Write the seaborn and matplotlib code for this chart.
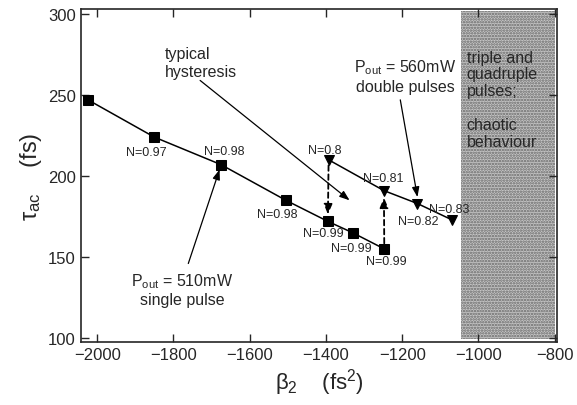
import matplotlib
matplotlib.use("Agg")
import matplotlib.pyplot as plt
import seaborn as sns
import pandas as pd

# single-pulse branch (P_out = 510 mW), squares
single_beta2 = [-2024, -1850, -1675, -1505, -1395, -1330, -1247]
single_tau = [247, 224, 207, 185, 172, 165, 155]
single_n = ["", "N=0.97", "N=0.98", "N=0.98", "N=0.99", "N=0.99", "N=0.99"]

# double-pulse branch (P_out = 560 mW), down triangles
double_beta2 = [-1393, -1248, -1160, -1070]
double_tau = [210, 191, 183, 173]
double_n = ["N=0.8", "N=0.81", "N=0.82", "N=0.83"]

# where the N labels sit (data coords)
single_lab_x = [None, -1872, -1668, -1527, -1408, -1333, -1241]
single_lab_y = [None, 215, 215.5, 176.5, 165, 155.5, 147.5]
double_lab_x = [-1404, -1250, -1157, -1078]
double_lab_y = [216, 198.5, 172.5, 179.5]

chaotic_from = -1045
xticks = [-2000, -1800, -1600, -1400, -1200, -1000, -800]
yticks = [100, 150, 200, 250, 300]

sns.set_style("ticks")
plt.rcParams["font.family"] = ["Liberation Sans", "DejaVu Sans"]
plt.rcParams["mathtext.fontset"] = "custom"
plt.rcParams["mathtext.rm"] = "Liberation Sans"
plt.rcParams["mathtext.it"] = "Liberation Sans"
plt.rcParams["hatch.linewidth"] = 1.2

fig = plt.figure(figsize=(5.77, 4.06), dpi=100)
ax = fig.add_axes([0.140, 0.155, 0.826, 0.82])

# chaotic region, speckled grey
ax.axvspan(chaotic_from, -800, ymin=0.01, ymax=0.995, facecolor="#c6c6c6",
           edgecolor="#666666", hatch="......", linewidth=0, zorder=0)
ax.text(chaotic_from + 14, 278, "triple and\nquadruple\npulses;\n\nchaotic\nbehaviour",
        ha="left", va="top", fontsize=11.5, linespacing=1.15, zorder=3)

single = pd.DataFrame({"beta2": single_beta2, "tau": single_tau})
double = pd.DataFrame({"beta2": double_beta2, "tau": double_tau})
sns.lineplot(data=single, x="beta2", y="tau", sort=False, color="black", lw=1.1,
             marker="s", markersize=6.5, markeredgecolor="black", ax=ax, zorder=4)
sns.lineplot(data=double, x="beta2", y="tau", sort=False, color="black", lw=1.1,
             marker="v", markersize=7, markeredgecolor="black", ax=ax, zorder=4)

for lx, ly, t in zip(single_lab_x, single_lab_y, single_n):
    if t:
        ax.text(lx, ly, t, ha="center", va="center", fontsize=9, zorder=5)
for lx, ly, t in zip(double_lab_x, double_lab_y, double_n):
    ax.text(lx, ly, t, ha="center", va="center", fontsize=9, zorder=5)

# dashed hysteresis jumps
dash = dict(arrowstyle="-|>,head_length=0.6,head_width=0.25", color="black",
            lw=1.3, linestyle=(0, (3, 2)), shrinkA=4, shrinkB=5)
ax.annotate("", xy=(single_beta2[4], single_tau[4]), xytext=(double_beta2[0], double_tau[0]),
            arrowprops=dash, zorder=3)
ax.annotate("", xy=(double_beta2[1], double_tau[1]), xytext=(single_beta2[6], single_tau[6]),
            arrowprops=dash, zorder=3)

# annotations
solid = dict(arrowstyle="-|>,head_length=0.6,head_width=0.22", color="black",
             lw=0.9, shrinkA=0, shrinkB=0)
ax.text(-1822, 270, "typical\nhysteresis", ha="left", va="center", fontsize=11.5)
ax.annotate("", xy=(-1338, 185), xytext=(-1730, 259), arrowprops=solid)

ax.text(-1778, 130, "P$_{\\rm out}$ = 510mW\nsingle pulse", ha="center",
        va="center", fontsize=11.5, linespacing=1.2)
ax.annotate("", xy=(-1679, 204), xytext=(-1761, 146), arrowprops=solid)

ax.text(-1192, 262, "P$_{\\rm out}$ = 560mW\ndouble pulses", ha="center",
        va="center", fontsize=11.5, linespacing=1.2)
ax.annotate("", xy=(-1160, 187), xytext=(-1205, 247), arrowprops=solid)

ax.set_xlim(-2043, -793)
ax.set_ylim(97.5, 303)
ax.set_xticks(xticks)
ax.set_yticks(yticks)
ax.tick_params(direction="in", top=True, right=True, length=6, width=1,
               labelsize=12)
for s in ax.spines.values():
    s.set_linewidth(1.2)
ax.set_xlabel(r"$\beta_2$    (fs$^2$)", fontsize=16, labelpad=3)
ax.set_ylabel(r"$\tau_{ac}$    (fs)", fontsize=17, labelpad=3)

plt.savefig("out.png", dpi=100)
